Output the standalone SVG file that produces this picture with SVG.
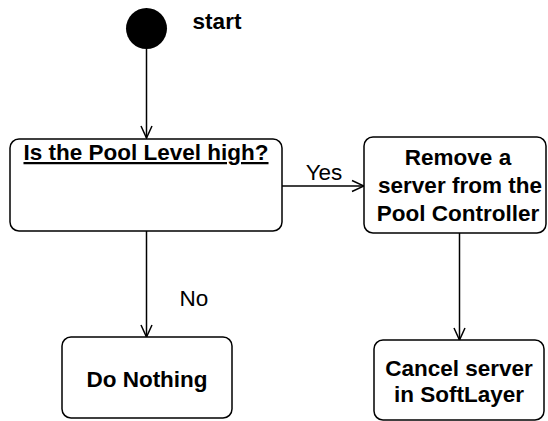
<svg xmlns="http://www.w3.org/2000/svg" width="548" height="421" viewBox="0 0 548 421">
<defs>
<style>
.box{fill:#fff;stroke:#000;stroke-width:1.5}
.t{font-family:"Liberation Sans",Arial,sans-serif;font-size:22.5px;fill:#000;text-anchor:middle}
.b{font-weight:bold}
.edge{stroke:#000;stroke-width:1.5;fill:none}
</style>
<marker id="arr" viewBox="0 0 14 14" refX="13" refY="7" markerWidth="14" markerHeight="14" markerUnits="userSpaceOnUse" orient="auto">
<path d="M1,1.5 L13,7 L1,12.5" fill="none" stroke="#000" stroke-width="1.5"/>
</marker>
</defs>
<rect width="548" height="421" fill="#fff"/>
<g id="connectors">
<line class="edge" x1="146.5" y1="49" x2="146.5" y2="138" marker-end="url(#arr)"/>
<line class="edge" x1="282" y1="186" x2="364" y2="186" marker-end="url(#arr)"/>
<text class="t" x="324" y="180">Yes</text>
<line class="edge" x1="146.5" y1="231" x2="146.5" y2="337" marker-end="url(#arr)"/>
<text class="t" x="194" y="306">No</text>
<line class="edge" x1="459.5" y1="233" x2="459.5" y2="340" marker-end="url(#arr)"/>
</g>
<g id="start">
<circle cx="146.5" cy="28.5" r="20.5" fill="#000"/>
<text class="t b" x="217" y="29">start</text>
</g>
<g id="decision">
<rect class="box" x="10" y="139" width="272" height="92" rx="9"/>
<text class="t b" x="146" y="160" text-decoration="underline">Is the Pool Level high?</text>
</g>
<g id="remove">
<rect class="box" x="364" y="137" width="182" height="96" rx="9"/>
<text class="t b" x="458" y="165">Remove a</text>
<text class="t b" x="460" y="193">server from the</text>
<text class="t b" x="458" y="221">Pool Controller</text>
</g>
<g id="nothing">
<rect class="box" x="62" y="337" width="170" height="81" rx="9"/>
<text class="t b" x="147" y="387">Do Nothing</text>
</g>
<g id="cancel">
<rect class="box" x="374" y="340" width="170" height="80" rx="9"/>
<text class="t b" x="459" y="376">Cancel server</text>
<text class="t b" x="459" y="402">in SoftLayer</text>
</g>
</svg>
